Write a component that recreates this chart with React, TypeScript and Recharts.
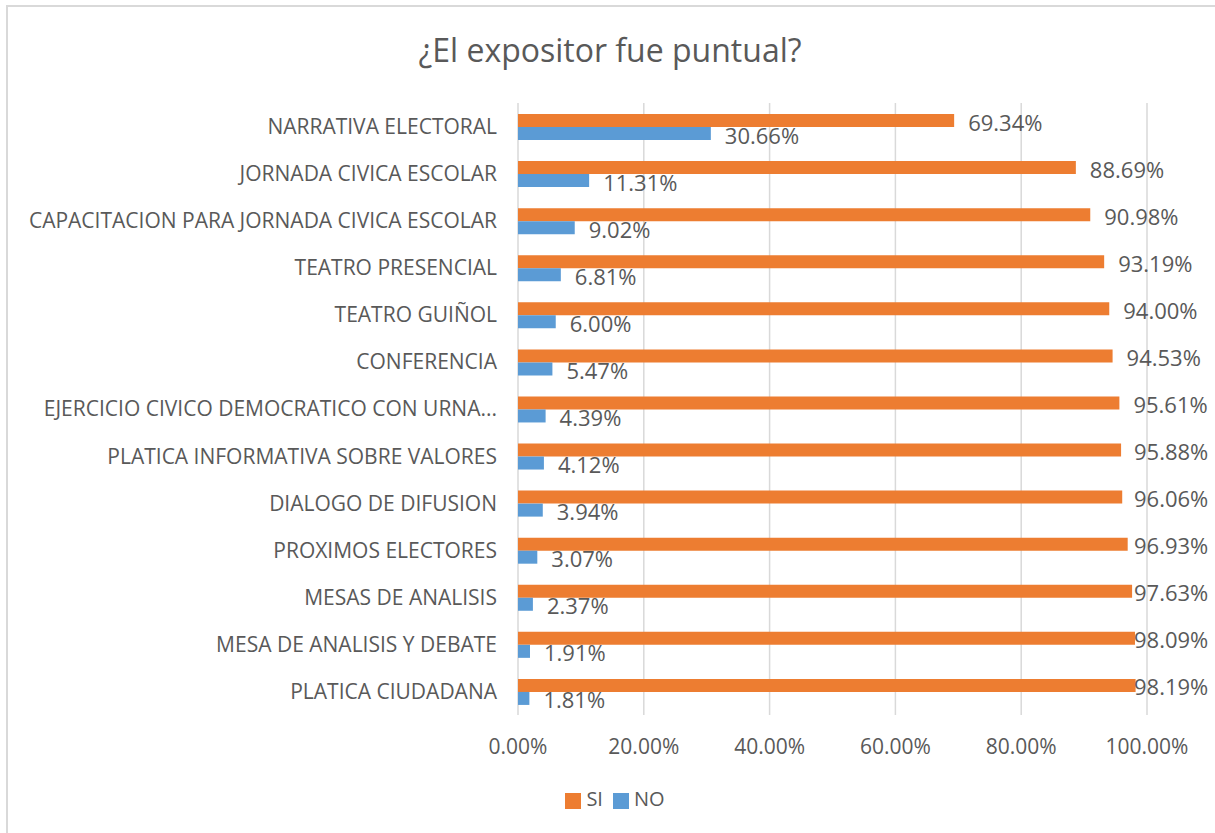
import React from 'react';
import { BarChart, Bar, XAxis, YAxis, CartesianGrid, Legend, LabelList } from 'recharts';

const categories = [
  'NARRATIVA ELECTORAL',
  'JORNADA CIVICA ESCOLAR',
  'CAPACITACION PARA JORNADA CIVICA ESCOLAR',
  'TEATRO PRESENCIAL',
  'TEATRO GUIÑOL',
  'CONFERENCIA',
  'EJERCICIO CIVICO DEMOCRATICO CON URNA...',
  'PLATICA INFORMATIVA SOBRE VALORES',
  'DIALOGO DE DIFUSION',
  'PROXIMOS ELECTORES',
  'MESAS DE ANALISIS',
  'MESA DE ANALISIS Y DEBATE',
  'PLATICA CIUDADANA',
];

const siValues = [69.34, 88.69, 90.98, 93.19, 94.0, 94.53, 95.61, 95.88, 96.06, 96.93, 97.63, 98.09, 98.19];
const noValues = [30.66, 11.31, 9.02, 6.81, 6.0, 5.47, 4.39, 4.12, 3.94, 3.07, 2.37, 1.91, 1.81];

const seriesOrder = ['SI', 'NO'];
const xTicks = [0, 20, 40, 60, 80, 100];

const data = categories.map((name, i) => ({ name, SI: siValues[i], NO: noValues[i] }));

const FONT = "'Open Sans', 'Noto Sans', sans-serif";
const TEXT = '#595959';
const GRID = '#D9D9D9';
const ORANGE = '#ED7D31';
const BLUE = '#5B9BD5';
const LABEL_OFFSET = 14;
const LABEL_MAX_X = 1134;

const fmt = (v: number) => `${v.toFixed(2)}%`;

const renderLabel = (props: any) => {
  const { x, y, width, height, value } = props;
  const lx = Math.min(Number(x) + Number(width) + LABEL_OFFSET, LABEL_MAX_X);
  return (
    <text
      x={lx}
      y={Number(y) + Number(height) / 2 + 1}
      textAnchor="start"
      dominantBaseline="central"
      fontFamily={FONT}
      fontSize={22}
      fill={TEXT}
    >
      {fmt(Number(value))}
    </text>
  );
};

export default function App() {
  return (
    <div style={{ position: 'absolute', left: 0, top: 0, width: 1215, height: 833, background: '#fff', fontFamily: FONT, overflow: 'hidden' }}>
      <div
        style={{
          position: 'absolute',
          left: 6,
          top: 5,
          width: 1209,
          height: 828,
          borderTop: `2px solid ${GRID}`,
          borderLeft: `2px solid ${GRID}`,
          boxSizing: 'border-box',
        }}
      />
      <div
        style={{
          position: 'absolute',
          left: 0,
          top: 34,
          width: 1220,
          textAlign: 'center',
          fontSize: 32,
          lineHeight: 1,
          color: TEXT,
          fontFamily: FONT,
        }}
      >
        ¿El expositor fue puntual?
      </div>
      <div style={{ position: 'absolute', left: 0, top: 0 }}>
        <BarChart
          width={1215}
          height={833}
          data={data}
          layout="vertical"
          margin={{ top: 103, right: 68, bottom: 20, left: 0 }}
          barCategoryGap={11}
          barGap={0}
        >
          <CartesianGrid horizontal={false} vertical stroke={GRID} strokeWidth={1.5} />
          <XAxis
            type="number"
            domain={[0, 100]}
            ticks={xTicks}
            tickFormatter={(v: number) => fmt(v)}
            axisLine={false}
            tickLine={false}
            tickSize={0}
            tickMargin={24}
            height={70}
            tick={{ fill: TEXT, fontSize: 21, fontFamily: FONT }}
            interval={0}
          />
          <YAxis
            type="category"
            dataKey="name"
            width={518}
            axisLine={false}
            tickLine={false}
            tickSize={0}
            tickMargin={21}
            interval={0}
            tick={{ fill: TEXT, fontSize: 21, fontFamily: FONT }}
          />
          <Legend
            verticalAlign="bottom"
            height={28}
            iconType="square"
            iconSize={16}
            itemSorter={(item: any) => seriesOrder.indexOf(String(item.value))}
            wrapperStyle={{ left: 0, width: 1240, fontSize: 20, fontFamily: FONT, lineHeight: '28px' }}
            formatter={(value: string) => (
              <span style={{ color: TEXT, fontSize: 20, fontFamily: FONT, marginLeft: 1 }}>{value}</span>
            )}
          />
          <Bar dataKey="SI" name="SI" fill={ORANGE} isAnimationActive={false}>
            <LabelList dataKey="SI" content={renderLabel} />
          </Bar>
          <Bar dataKey="NO" name="NO" fill={BLUE} isAnimationActive={false}>
            <LabelList dataKey="NO" content={renderLabel} />
          </Bar>
        </BarChart>
      </div>
    </div>
  );
}
